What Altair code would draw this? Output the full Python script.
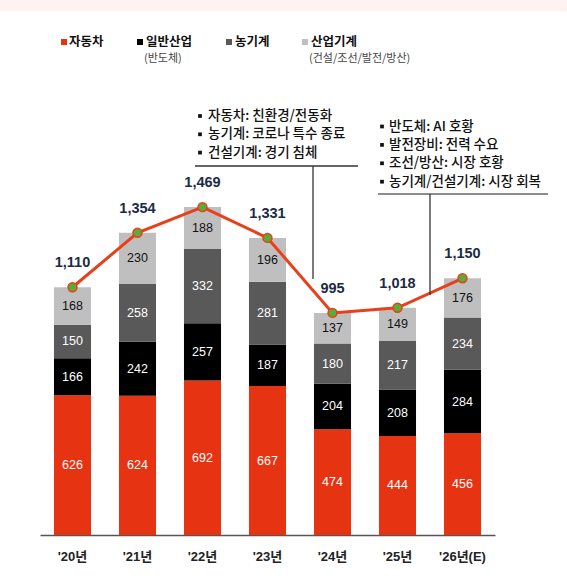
import altair as alt
import pandas as pd

# Sales by segment (stacked), with the yearly total on top
years = ["'20년", "'21년", "'22년", "'23년", "'24년", "'25년", "'26년(E)"]
segments = ["자동차", "일반산업", "농기계", "산업기계"]
auto = [626, 624, 692, 667, 474, 444, 456]
general = [166, 242, 257, 187, 204, 208, 284]
agri = [150, 258, 332, 281, 180, 217, 234]
industrial = [168, 230, 188, 196, 137, 149, 176]
totals = [1110, 1354, 1469, 1331, 995, 1018, 1150]

seg_colors = ["#e63312", "#000000", "#595959", "#bfbfbf"]

note_left = ["자동차: 친환경/전동화", "농기계: 코로나 특수 종료", "건설기계: 경기 침체"]
note_right = ["반도체: AI 호황", "발전장비: 전력 수요", "조선/방산: 시장 호황", "농기계/건설기계: 시장 회복"]

rows = []
for i, y in enumerate(years):
    for k, (seg, vals) in enumerate(zip(segments, [auto, general, agri, industrial])):
        rows.append({"year": y, "seg": seg, "idx": k, "value": vals[i]})
long = pd.DataFrame(rows)
tot = pd.DataFrame({"year": years, "total": totals})

NUM_FONT = "Liberation Sans, Noto Sans CJK KR"
KR_FONT = "Noto Sans CJK KR"

x_enc = alt.X(
    "year:N", sort=years, title=None,
    scale=alt.Scale(paddingInner=0.43, paddingOuter=0.215),
    axis=alt.Axis(labelAngle=0, ticks=False, domainColor="#555555", domainWidth=1.5,
                  labelFont=NUM_FONT, labelFontSize=13, labelFontWeight="bold",
                  labelColor="#222222", labelPadding=15),
)
y_scale = alt.Scale(domain=[0, 2016], nice=False)

bars = alt.Chart(long).mark_bar().encode(
    x=x_enc,
    y=alt.Y("value:Q", stack="zero", scale=y_scale, axis=None),
    color=alt.Color("seg:N", scale=alt.Scale(domain=segments, range=seg_colors), legend=None),
    order=alt.Order("idx:Q"),
)

# value labels centred in each segment
seg_labels = alt.Chart(long).transform_stack(
    stack="value", groupby=["year"], as_=["v0", "v1"], sort=[alt.SortField("idx", order="ascending")]
).transform_calculate(mid="(datum.v0 + datum.v1) / 2").mark_text(
    font=NUM_FONT, fontSize=12.5
).encode(
    x=alt.X("year:N", sort=years),
    y=alt.Y("mid:Q", scale=y_scale),
    text=alt.Text("value:Q"),
    fill=alt.condition("datum.idx == 3", alt.value("#111111"), alt.value("#ffffff")),
)

line = alt.Chart(tot).mark_line(color="#e8401a", strokeWidth=3).encode(
    x=alt.X("year:N", sort=years), y=alt.Y("total:Q", scale=y_scale)
)
dots = alt.Chart(tot).mark_point(
    shape="circle", filled=True, size=80, fill="#5cab38", stroke="#e8401a", strokeWidth=1.5, opacity=1
).encode(x=alt.X("year:N", sort=years), y=alt.Y("total:Q", scale=y_scale))
tot_labels = alt.Chart(tot).mark_text(
    font=NUM_FONT, fontSize=14.5, fontWeight="bold", color="#1c2b45", dy=-24
).encode(
    x=alt.X("year:N", sort=years), y=alt.Y("total:Q", scale=y_scale),
    text=alt.Text("total:Q", format=","),
)

one = pd.DataFrame({"a": [0]})

# top band
band = alt.Chart(one).mark_rect(color="#fff3f1").encode(
    x=alt.value(-40), x2=alt.value(527), y=alt.value(-85), y2=alt.value(-74)
)

# legend
legend_layers = []
sq_x = [24, 100, 189, 265]
txt_x = [29, 106, 195, 271]
for c, sx, tx, name in zip(seg_colors, sq_x, txt_x, segments):
    legend_layers.append(alt.Chart(one).mark_square(size=36, color=c, opacity=1).encode(
        x=alt.value(sx), y=alt.value(-43)))
    legend_layers.append(alt.Chart(one).mark_text(
        text=name, font=KR_FONT, fontSize=12.5, fontWeight="bold", color="#111111",
        align="left", baseline="middle").encode(x=alt.value(tx), y=alt.value(-43)))
for tx, sub in zip([104, 269], ["(반도체)", "(건설/조선/발전/방산)"]):
    legend_layers.append(alt.Chart(one).mark_text(
        text=sub, font=KR_FONT, fontSize=11, color="#444444",
        align="left", baseline="middle").encode(x=alt.value(tx), y=alt.value(-26)))

# callouts: bullet squares + text
note_layers = []
def note_block(lines, x_bullet, x_text, y0, step):
    out = []
    for i, t in enumerate(lines):
        yy = y0 + step * i
        out.append(alt.Chart(one).mark_square(size=14, color="#111111", opacity=1).encode(
            x=alt.value(x_bullet), y=alt.value(yy)))
        out.append(alt.Chart(one).mark_text(
            text=t, font=KR_FONT, fontSize=13.5, fontWeight=500, color="#111111",
            align="left", baseline="middle").encode(x=alt.value(x_text), y=alt.value(yy)))
    return out

note_layers += note_block(note_left, 160, 168, 31, 18.3)
note_layers += note_block(note_right, 342, 349, 41.5, 18.4)

rule_style = dict(color="#333333", strokeWidth=1.3)
note_layers += [
    alt.Chart(one).mark_rule(**rule_style).encode(x=alt.value(155), x2=alt.value(318), y=alt.value(81)),
    alt.Chart(one).mark_rule(**rule_style).encode(x=alt.value(273), y=alt.value(81), y2=alt.value(194)),
    alt.Chart(one).mark_rule(color="#666666", strokeWidth=1.3).encode(x=alt.value(338), x2=alt.value(508), y=alt.value(109)),
    alt.Chart(one).mark_rule(**rule_style).encode(x=alt.value(390), y=alt.value(109), y2=alt.value(210)),
]

chart = alt.layer(
    band, bars, seg_labels, line, dots, tot_labels, *legend_layers, *note_layers
).properties(
    width=455, height=450,
    autosize=alt.AutoSizeParams(type="none"),
    padding={"left": 40, "top": 85, "right": 72, "bottom": 45},
    background="white",
).configure_view(stroke=None)

chart.save("out.html", embed_options={"renderer": "svg", "actions": False})
